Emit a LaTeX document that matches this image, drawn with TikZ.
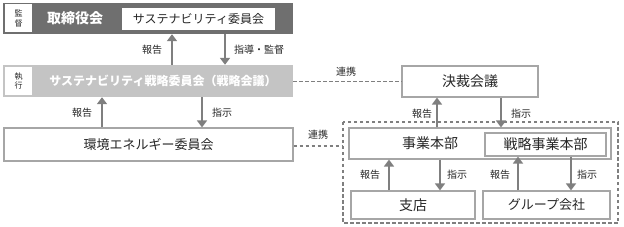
\documentclass[tikz,border=0pt]{standalone}
\usepackage{fontspec}
\setmainfont{Noto Sans CJK JP}
\usetikzlibrary{arrows.meta}
\definecolor{boardgray}{HTML}{6F6F6F}
\definecolor{execgray}{HTML}{C4C4C4}
\definecolor{framegray}{HTML}{A6A6A6}
\definecolor{linkgray}{HTML}{7F7F7F}
\definecolor{inkgray}{HTML}{262626}

\begin{document}
\begin{tikzpicture}[
  x=1pt,
  y=-1pt,
  font=\fontsize{13}{15}\selectfont,
  text=inkgray,
  bar/.style={draw=none,minimum width=290pt,minimum height=31pt,inner sep=0pt},
  tag/.style={fill=white,minimum width=27pt,minimum height=28pt,inner sep=0pt,
    align=center,font=\fontsize{8}{9.5}\selectfont},
  unit/.style={draw=framegray,line width=1.2pt,fill=white,inner sep=0pt},
  big/.style={font=\fontsize{14}{16}\selectfont},
  flow/.style={draw=linkgray,line width=2.3pt,-{Triangle[length=7pt,width=10pt]}},
  link/.style={draw=linkgray,line width=1.1pt,dash pattern=on 3.5pt off 2.5pt},
  note/.style={font=\fontsize{10}{11}\selectfont,inner sep=0pt}
]
  \useasboundingbox (0,0) rectangle (624,227);

  % Supervision layer: board of directors with its sustainability committee.
  \node[bar,fill=boardgray] (board) at (148,18.5) {};
  \node[tag] (kansa) at (18.5,18.5) {監\\督};
  \node[text=white,font=\fontsize{14}{16}\bfseries] (torishimari) at (75,18.5) {取締役会};
  \node[unit,draw=none,minimum width=153pt,minimum height=22pt,
    font=\fontsize{12}{14}\selectfont] (suscom) at (198.5,19) {サステナビリティ委員会};

  % Execution layer.
  \node[bar,fill=execgray,minimum height=32pt] (strat) at (148,81) {};
  \node[tag] (shikko) at (18.5,81) {執\\行};
  \node[text=white,font=\fontsize{12}{14}\bfseries] (strattext) at (163,81)
    {サステナビリティ戦略委員会（戦略会議）};
  \node[unit,minimum width=289pt,minimum height=33pt] (env) at (148.5,144.5)
    {環境エネルギー委員会};

  % Business side, grouped inside the dashed frame.
  \node[unit,big,minimum width=136pt,minimum height=31pt] (kessai) at (470,81.5) {決裁会議};
  \draw[link] (343,122) rectangle (618,223);
  \coordinate (grpwest) at (343,146);
  \node[unit,minimum width=262pt,minimum height=31pt] (jigyo) at (480,143.5) {};
  \node[big,inner sep=0pt] (jigyotext) at (430,143.5) {事業本部};
  \node[unit,big,minimum width=121pt,minimum height=23pt] (senryaku) at (545.5,144.5) {戦略事業本部};
  \node[unit,big,minimum width=124pt,minimum height=28pt] (shiten) at (413,205) {支店};
  \node[unit,minimum width=127pt,minimum height=28pt] (gaisha) at (546.5,205) {グループ会社};

  % Reports go up: x / lower box / upper box.
  \foreach \x/\from/\to in {172/strat/board, 102/env/strat, 437/jigyo/kessai,
                            389/shiten/jigyo, 518/gaisha/senryaku} {
    \draw[flow] (\from.north -| \x,0) -- (\to.south -| \x,0);
  }
  % Instructions go down: x / upper box / lower box.
  \foreach \x/\from/\to in {225/board/strat, 202/strat/env, 501/kessai/jigyo,
                            440/jigyo/shiten, 571/senryaku/gaisha} {
    \draw[flow] (\from.south -| \x,0) -- (\to.north -| \x,0);
  }

  \node[note] (r1) at (152,50) {報告};
  \node[note] (i1) at (259,50) {指導・監督};
  \node[note] (r2) at (82,113) {報告};
  \node[note] (i2) at (222,113) {指示};
  \node[note] (r3) at (422,114) {報告};
  \node[note] (i3) at (521,114) {指示};
  \node[note] (r4) at (370,175) {報告};
  \node[note] (i4) at (457,175) {指示};
  \node[note] (r5) at (500,175) {報告};
  \node[note] (i5) at (587,175) {指示};

  % Cooperation links.
  \draw[link] (strat.east |- kessai.west) -- (kessai.west);
  \node[note] (c1) at (346,72) {連携};
  \draw[link] (env.east |- grpwest) -- (grpwest);
  \node[note] (c2) at (318,135) {連携};
\end{tikzpicture}
\end{document}
